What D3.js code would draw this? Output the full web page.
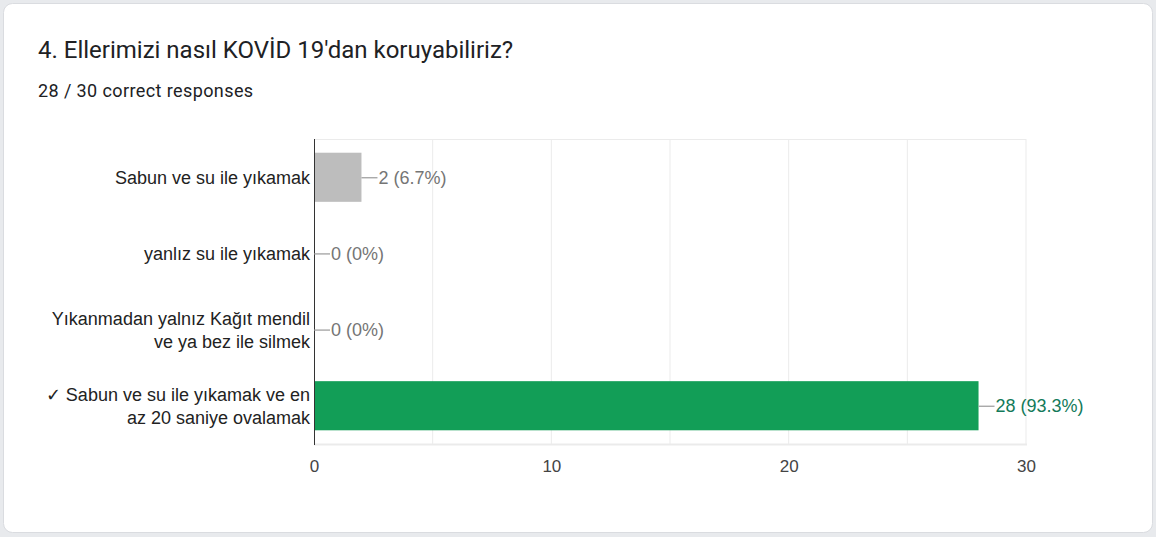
<!DOCTYPE html>
<html><head><meta charset="utf-8">
<script src="https://cdn.jsdelivr.net/npm/d3@7"></script>
<style>
html,body{margin:0;padding:0;background:#e8eaed;}
svg{display:block;}
</style></head>
<body>
<svg id="c" width="1156" height="537"></svg>
<script>
const title = "4. Ellerimizi nasıl KOVİD 19'dan koruyabiliriz?";
const subtitle = "28 / 30 correct responses";
const categories = [
  ["Sabun ve su ile yıkamak"],
  ["yanlız su ile yıkamak"],
  ["Yıkanmadan yalnız Kağıt mendil", "ve ya bez ile silmek"],
  ["✓ Sabun ve su ile yıkamak ve en", "az 20 saniye ovalamak"]
];
const values = [2, 0, 0, 28];
const percents = ["6.7%", "0%", "0%", "93.3%"];
const correct = [false, false, false, true];
const xTicks = [0, 10, 20, 30];
const gridTicks = [0, 5, 10, 15, 20, 25, 30];

const svg = d3.select("#c");
svg.append("rect").attr("x", 3.5).attr("y", 3.5).attr("width", 1149).attr("height", 529)
  .attr("rx", 9).attr("fill", "#fff").attr("stroke", "#dadce0");

svg.append("text").attr("x", 38).attr("y", 58).text(title)
  .attr("font-family", "Roboto, Arial, sans-serif").attr("font-size", 24).attr("fill", "#202124");
svg.append("text").attr("x", 38).attr("y", 97).text(subtitle)
  .attr("font-family", "Roboto, Arial, sans-serif").attr("font-size", 18).attr("fill", "#202124")
  .attr("letter-spacing", 0.4);

const pLeft = 314, pRight = 1026, pTop = 139, pBottom = 444;
const x = d3.scaleLinear().domain([0, 30]).range([pLeft, pRight]);
const y = d3.scaleBand().domain(d3.range(categories.length)).range([pTop, pBottom]).paddingInner(0.355).paddingOuter(0.18);

const font = "Arial, 'Liberation Sans', sans-serif";
const g = svg.append("g");
g.selectAll("line.grid").data(gridTicks.slice(1)).enter().append("line")
  .attr("x1", d => x(d)).attr("x2", d => x(d)).attr("y1", pTop).attr("y2", pBottom)
  .attr("stroke", "#ebebeb").attr("stroke-width", 1);
g.append("line").attr("x1", pLeft).attr("x2", pRight).attr("y1", pTop + 0.5).attr("y2", pTop + 0.5)
  .attr("stroke", "#ebebeb");
g.append("line").attr("x1", pLeft).attr("x2", pRight + 1).attr("y1", pBottom + 0.5).attr("y2", pBottom + 0.5)
  .attr("stroke", "#ebebeb").attr("stroke-width", 2);

g.selectAll("rect.bar").data(values).enter().append("rect")
  .attr("x", x(0)).attr("y", (d, i) => y(i)).attr("width", d => x(d) - x(0)).attr("height", y.bandwidth())
  .attr("fill", (d, i) => correct[i] ? "#129e57" : "#bdbdbd");

g.append("line").attr("x1", pLeft + 0.5).attr("x2", pLeft + 0.5).attr("y1", pTop).attr("y2", pBottom + 1)
  .attr("stroke", "#333").attr("stroke-width", 1);

values.forEach((v, i) => {
  const cy = y(i) + y.bandwidth() / 2;
  const x0 = x(v);
  g.append("line").attr("x1", x0).attr("x2", x0 + 16).attr("y1", cy + 0.5).attr("y2", cy + 0.5)
    .attr("stroke", "#999").attr("stroke-width", 1.2);
  g.append("text").attr("x", x0 + 17).attr("y", cy + 6.5)
    .text(v + " (" + percents[i] + ")")
    .attr("font-family", font).attr("font-size", 18)
    .attr("fill", correct[i] ? "#137a5a" : "#757575");
});

categories.forEach((lines, i) => {
  const cy = y(i) + y.bandwidth() / 2;
  const lh = 23;
  const startY = cy + 6.5 - (lines.length - 1) * lh / 2;
  const t = g.append("text").attr("text-anchor", "end")
    .attr("font-family", font).attr("font-size", 18).attr("fill", "#222");
  lines.forEach((ln, k) => {
    t.append("tspan").attr("x", pLeft - 4).attr("y", startY + k * lh).text(ln);
  });
});

const ax = d3.axisBottom(x).tickValues(xTicks).tickSize(0).tickPadding(0);
const axg = svg.append("g").attr("transform", `translate(0,${pBottom})`).call(ax);
axg.select(".domain").remove();
axg.selectAll("text").attr("y", 28).attr("dy", 0)
  .attr("font-family", font).attr("font-size", 17).attr("fill", "#444");
</script>
</body></html>
